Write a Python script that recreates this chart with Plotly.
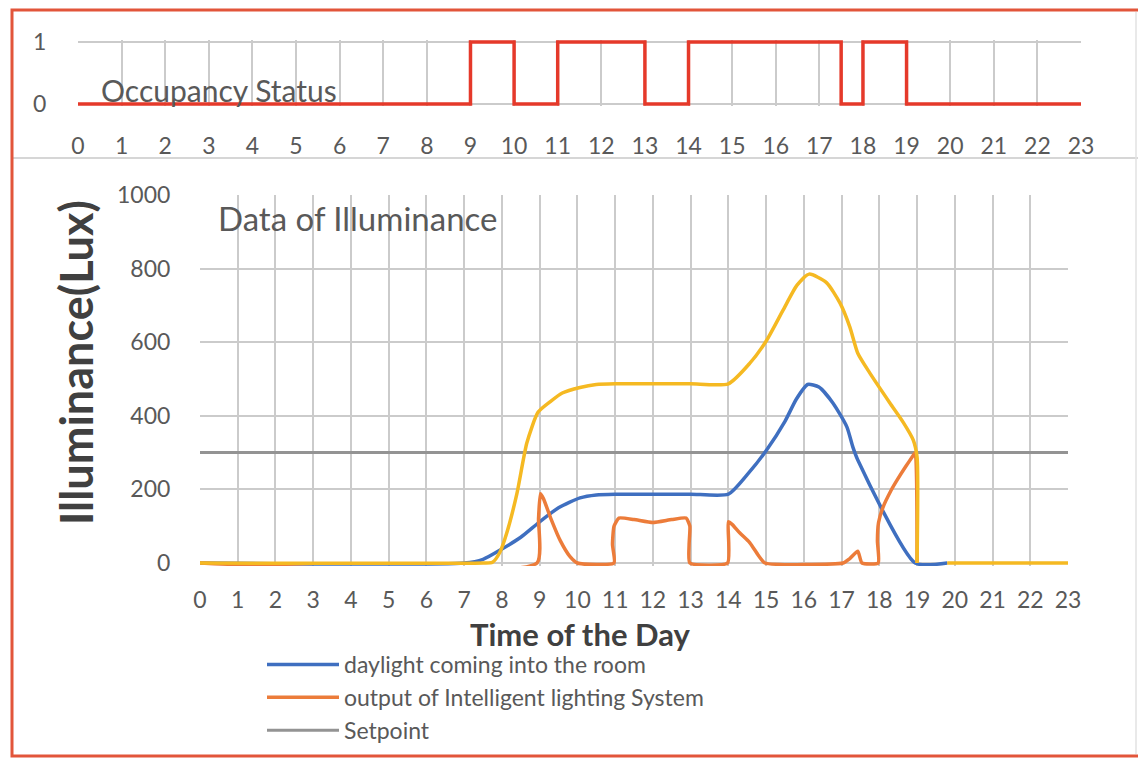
import plotly.graph_objects as go

W, H = 1138, 758

# ---------------- data ----------------
hours = list(range(0, 24))
hour_labels = [str(h) for h in hours]

occ_x = [0, 9, 10, 11, 13, 14, 17.5, 18, 19, 23]
occ_y = [0, 1, 0, 1, 0, 1, 0, 1, 0, 0]

setpoint_x = [0, 23]
setpoint_y = [300, 300]

daylight_x = [0, 7.0, 7.5, 8.0, 8.5, 9.0, 9.5, 10.07, 10.5, 11, 12, 13, 14, 14.5, 15.0,
              15.5, 15.8, 16.1, 16.4, 16.77, 17.14, 17.3, 17.43, 18.95, 19.8]
daylight_y = [0, 0, 10, 38, 70, 112, 150, 177, 185, 187, 187, 187, 187, 240, 305,
              385, 445, 485, 478, 435, 370, 315, 280, 0, 0]

output_x = [0, 8.93, 8.97, 9.02, 9.1, 9.3, 9.55, 9.8, 10.0,
            10.97, 10.93, 10.97, 11.1, 11.5, 12.0, 12.5, 12.88, 12.98, 12.96, 12.98,
            13.98, 14.0, 14.1, 14.3, 14.57, 14.8, 14.97,
            17.04, 17.22, 17.43, 17.54,
            17.97, 17.95, 17.98, 18.1, 18.3, 18.47, 18.7, 18.87, 18.95, 19.0]
output_y = [0, 0, 120, 188, 175, 120, 60, 18, 0,
            0, 50, 100, 122, 118, 110, 118, 122, 100, 50, 0,
            0, 112, 105, 82, 55, 20, 0,
            0, 12, 32, 0,
            0, 60, 110, 152, 195, 225, 262, 288, 300, 0]

total_x = [0, 7.5, 7.75, 7.95, 8.13, 8.4, 8.66, 8.96, 9.3, 9.6, 10.07, 10.5, 11, 12, 13, 14,
           14.57, 15.02, 15.45, 15.82, 16.14, 16.6, 16.96, 17.22, 17.43, 17.75, 18.28,
           18.63, 18.9, 19.0, 19.0, None, 19.8, 23]
total_y = [0, 0, 2, 30, 82, 190, 326, 410, 440, 462, 477, 485, 487, 487, 487, 487,
           543, 606, 687, 755, 785, 762, 706, 641, 570, 516, 435,
           383, 334, 288, 0, None, 0, 0]

illum_ticks = [0, 200, 400, 600, 800, 1000]
occ_ticks = [0, 1]

# ---------------- style ----------------
FONT = "Lato"
TXT = "#595959"
GRID = "#CBCBCB"
RED = "#E5392A"
BLUE = "#3F6FC0"
ORANGE = "#EC7C3A"
YELLOW = "#F5B922"
GRAY = "#939393"
TICK = 23


def px(x):
    return x / W


def py(y):
    return 1 - y / H


fig = go.Figure()

fig.add_trace(go.Scatter(x=occ_x, y=occ_y, mode="lines", line=dict(color=RED, width=3.5, shape="hv"),
                         xaxis="x", yaxis="y", showlegend=False, name="Occupancy Status"))

fig.add_trace(go.Scatter(x=setpoint_x, y=setpoint_y, mode="lines", line=dict(color=GRAY, width=3),
                         xaxis="x2", yaxis="y2", name="Setpoint", legendrank=3))
fig.add_trace(go.Scatter(x=daylight_x, y=daylight_y, mode="lines",
                         line=dict(color=BLUE, width=3.5, shape="spline", smoothing=0.6),
                         xaxis="x2", yaxis="y2", name="daylight coming into the room", legendrank=1))
fig.add_trace(go.Scatter(x=output_x, y=output_y, mode="lines",
                         line=dict(color=ORANGE, width=3.5, shape="spline", smoothing=0.5),
                         xaxis="x2", yaxis="y2", name="output of Intelligent lighting System", legendrank=2))
fig.add_trace(go.Scatter(x=total_x, y=total_y, mode="lines",
                         line=dict(color=YELLOW, width=3.5, shape="spline", smoothing=0.6),
                         xaxis="x2", yaxis="y2", showlegend=False, name="total"))

top_occ = 42
bot_occ = 104
pad_occ = 0.04
occ_span = bot_occ - top_occ

y0_ill = 563
y1000_ill = 195
ill_pad = 8
ill_scale = (y0_ill - y1000_ill) / 1000

common = dict(showgrid=True, gridcolor=GRID, gridwidth=2, zeroline=False, showline=False,
              ticks="outside", tickcolor="rgba(0,0,0,0)", tickfont=dict(size=TICK, color=TXT),
              fixedrange=True, automargin=False)

fig.update_layout(
    width=W, height=H,
    autosize=False,
    margin=dict(l=0, r=0, t=0, b=0, pad=0, autoexpand=False),
    paper_bgcolor="white", plot_bgcolor="white",
    font=dict(family=FONT, color=TXT, size=TICK),
    xaxis=dict(domain=[px(78), px(1081)], range=[0, 23], tickvals=hours, ticktext=hour_labels,
               ticklen=19, anchor="y", **common),
    yaxis=dict(domain=[py(bot_occ + pad_occ * occ_span), py(top_occ - pad_occ * occ_span)],
               range=[-pad_occ, 1 + pad_occ], tickvals=occ_ticks, ticktext=["0", "1"],
               ticklen=26, anchor="x", **common),
    xaxis2=dict(domain=[px(200), px(1068)], range=[0, 23], tickvals=hours, ticktext=hour_labels,
                ticklen=13, anchor="y2", **common),
    yaxis2=dict(domain=[py(y0_ill + ill_pad * ill_scale), py(y1000_ill)], range=[-ill_pad, 1000],
                tickvals=illum_ticks, ticklen=24, anchor="x2", **common),
    legend=dict(x=px(262), y=py(643), xanchor="left", yanchor="top", orientation="v",
                font=dict(size=23, color=TXT), bgcolor="rgba(0,0,0,0)", itemwidth=72,
                traceorder="normal", tracegroupgap=0),
    showlegend=True,
)

fig.add_annotation(text="Occupancy Status", x=px(99), y=py(90), xref="paper", yref="paper",
                   xanchor="left", yanchor="middle", showarrow=False, font=dict(size=30, color=TXT))
fig.add_annotation(text="Data of Illuminance", x=px(216), y=py(218), xref="paper", yref="paper",
                   xanchor="left", yanchor="middle", showarrow=False, font=dict(size=33, color=TXT))
fig.add_annotation(text="<b>Illuminance(Lux)</b>", x=px(76), y=py(363), xref="paper", yref="paper",
                   xanchor="center", yanchor="middle", textangle=-90, showarrow=False,
                   font=dict(size=45, color="#404040"))
fig.add_annotation(text="<b>Time of the Day</b>", x=px(580), y=py(634), xref="paper", yref="paper",
                   xanchor="center", yanchor="middle", showarrow=False, font=dict(size=31, color="#404040"))

# frame
fig.add_shape(type="line", xref="paper", yref="paper", x0=px(12), x1=1, y0=py(158), y1=py(158),
              line=dict(color="#D6D6D6", width=2))
fig.add_shape(type="line", xref="paper", yref="paper", x0=px(1136), x1=px(1136), y0=py(12), y1=py(754),
              line=dict(color="#E2E2E2", width=1.5))
fig.add_shape(type="path", xref="paper", yref="paper",
              path=f"M 1 {py(10)} L {px(12)} {py(10)} L {px(12)} {py(756)} L 1 {py(756)}",
              line=dict(color="#E2553A", width=3))

fig.write_html("out.html", config={"displayModeBar": False},
               post_script="document.body.style.margin='0';document.body.style.overflow='hidden';")
